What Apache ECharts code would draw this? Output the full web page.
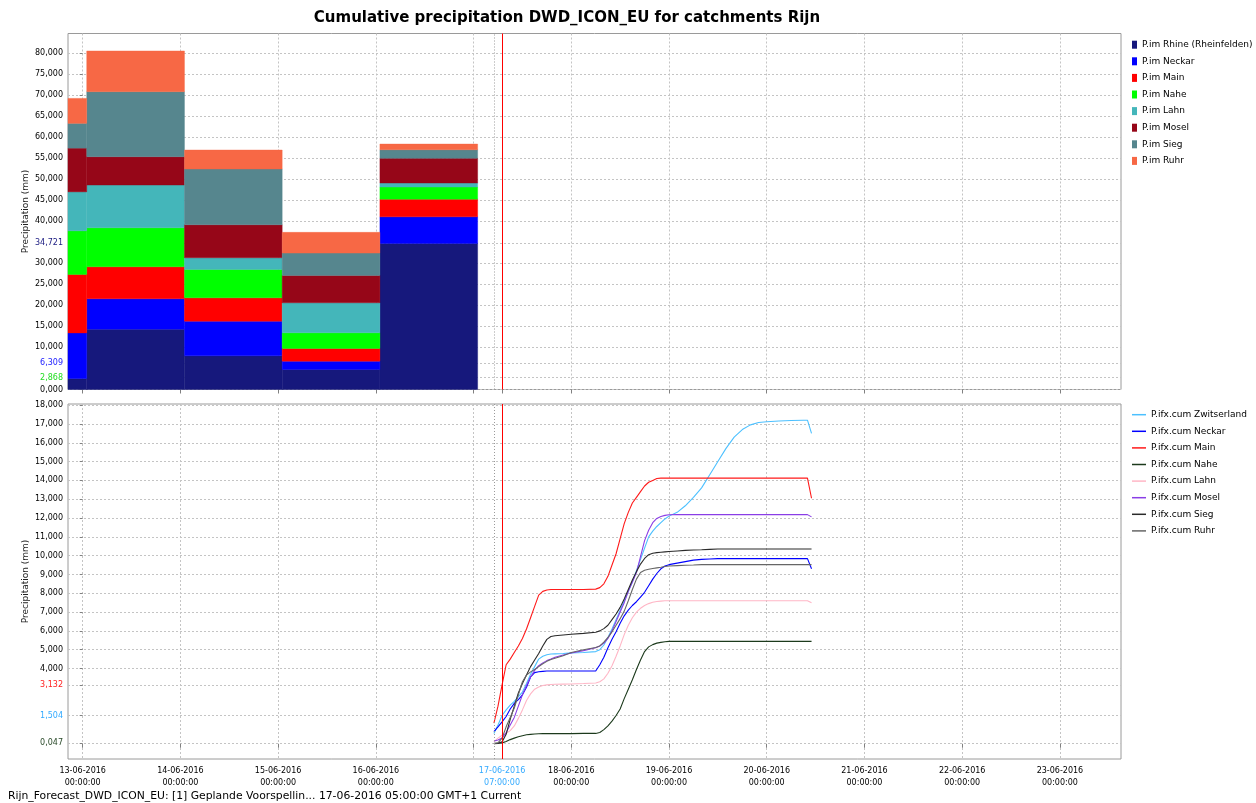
<!DOCTYPE html>
<html><head><meta charset="utf-8">
<script src="https://cdn.jsdelivr.net/npm/echarts@6/dist/echarts.min.js"></script>
<style>html,body{margin:0;padding:0;background:#fff}#c{width:1256px;height:803px}</style>
</head><body><div id="c"></div>
<script>
// ---------- DATA ----------
const titleText = 'Cumulative precipitation DWD_ICON_EU for catchments Rijn';
const footerText = 'Rijn_Forecast_DWD_ICON_EU: [1] Geplande Voorspellin... 17-06-2016 05:00:00 GMT+1 Current';
const yAxisName = 'Precipitation (mm)';

// top panel: daily precipitation blocks (stacked), periods start/end
const barStarts = ['2016-06-12 01:00', '2016-06-13 01:00', '2016-06-14 01:00', '2016-06-15 01:00', '2016-06-16 01:00'];
const barEnds   = ['2016-06-13 01:00', '2016-06-14 01:00', '2016-06-15 01:00', '2016-06-16 01:00', '2016-06-17 01:00'];
const barNames = ['P.im Rhine (Rheinfelden)', 'P.im Neckar', 'P.im Main', 'P.im Nahe', 'P.im Lahn', 'P.im Mosel', 'P.im Sieg', 'P.im Ruhr'];
const imRhine  = [2.6, 14.34, 8.0, 4.76, 34.721];
const imNeckar = [10.85, 7.21, 8.24, 1.97, 6.309];
const imMain   = [13.88, 7.61, 5.54, 3.02, 4.21];
const imNahe   = [10.37, 9.27, 6.76, 3.72, 2.868];
const imLahn   = [9.27, 10.16, 2.76, 7.13, 0.95];
const imMosel  = [10.39, 6.73, 7.85, 6.51, 5.87];
const imSieg   = [5.88, 15.45, 13.24, 5.3, 2.05];
const imRuhr   = [5.94, 9.68, 4.52, 4.93, 1.35];
const topTickValues = [0, 2.868, 6.309, 10, 15, 20, 25, 30, 34.721, 40, 45, 50, 55, 60, 65, 70, 75, 80];

// bottom panel: cumulative forecast, hours after 17-06-2016 00:00
const forecastDay = '2016-06-17 00:00';
const lineHours = [5,6,7,8,9,10,11,12,13,14,15,16,17,18,19,20,22,24,27,30,31,32,33,34,35,36,37,38,39,40,41,42,43,44,45,46,47,48,50,52,54,56,58,60,62,64,66,68,70,72,75,78,81,82,83];
const lineNames = ['P.ifx.cum Zwitserland', 'P.ifx.cum Neckar', 'P.ifx.cum Main', 'P.ifx.cum Nahe', 'P.ifx.cum Lahn', 'P.ifx.cum Mosel', 'P.ifx.cum Sieg', 'P.ifx.cum Ruhr'];
const cumZwitserland = [0.55,1.0,1.504,1.8,2.05,2.25,2.5,2.75,3.2,3.7,4.1,4.5,4.65,4.73,4.77,4.78,4.8,4.83,4.85,4.9,5.0,5.25,5.65,6.1,6.6,7.1,7.6,8.1,8.6,9.2,9.8,10.4,11.0,11.3,11.55,11.75,11.95,12.1,12.3,12.65,13.1,13.6,14.3,15.0,15.7,16.3,16.7,16.95,17.08,17.12,17.16,17.18,17.2,17.2,16.5];
const cumNeckar = [0.65,0.9,1.16,1.45,1.85,2.15,2.35,2.6,3.0,3.55,3.78,3.83,3.85,3.87,3.87,3.87,3.87,3.87,3.87,3.87,4.2,4.6,5.1,5.55,5.95,6.4,6.8,7.1,7.35,7.55,7.8,8.05,8.4,8.75,9.05,9.3,9.45,9.52,9.6,9.68,9.76,9.8,9.82,9.84,9.84,9.84,9.84,9.84,9.84,9.84,9.84,9.84,9.84,9.84,9.3];
const cumMain = [1.1,2.0,3.132,4.2,4.5,4.85,5.2,5.6,6.1,6.7,7.3,7.9,8.1,8.17,8.2,8.2,8.2,8.2,8.2,8.22,8.3,8.5,8.9,9.5,10.1,10.9,11.7,12.3,12.8,13.1,13.4,13.7,13.9,14.0,14.1,14.12,14.12,14.12,14.12,14.12,14.12,14.12,14.12,14.12,14.12,14.12,14.12,14.12,14.12,14.12,14.12,14.12,14.12,14.12,13.05];
const cumNahe = [0.02,0.03,0.047,0.12,0.22,0.3,0.37,0.43,0.48,0.5,0.52,0.53,0.54,0.54,0.54,0.54,0.54,0.54,0.55,0.55,0.6,0.75,0.95,1.2,1.5,1.85,2.4,2.9,3.4,3.95,4.45,4.9,5.15,5.27,5.35,5.39,5.42,5.44,5.44,5.44,5.44,5.44,5.44,5.44,5.44,5.44,5.44,5.44,5.44,5.44,5.44,5.44,5.44,5.44,5.44];
const cumLahn = [0.1,0.3,0.45,0.55,0.7,0.95,1.35,1.8,2.3,2.65,2.9,3.02,3.1,3.13,3.15,3.16,3.17,3.18,3.2,3.23,3.3,3.45,3.75,4.15,4.65,5.2,5.8,6.3,6.7,7.0,7.2,7.35,7.45,7.52,7.56,7.58,7.6,7.6,7.6,7.6,7.6,7.6,7.6,7.6,7.6,7.6,7.6,7.6,7.6,7.6,7.6,7.6,7.6,7.6,7.5];
const cumMosel = [0.15,0.2,0.3,0.6,1.0,1.4,2.0,2.6,3.1,3.55,3.9,4.15,4.3,4.42,4.5,4.6,4.72,4.82,4.95,5.1,5.2,5.35,5.6,6.0,6.5,7.0,7.5,8.1,8.6,9.1,9.95,10.8,11.35,11.75,11.98,12.08,12.14,12.17,12.18,12.18,12.18,12.18,12.18,12.18,12.18,12.18,12.18,12.18,12.18,12.18,12.18,12.18,12.18,12.18,12.06];
const cumSieg = [0.0,0.02,0.1,0.5,1.3,2.0,2.7,3.2,3.65,4.1,4.45,4.8,5.2,5.55,5.7,5.74,5.78,5.82,5.87,5.93,6.0,6.12,6.3,6.6,6.9,7.25,7.7,8.2,8.7,9.15,9.55,9.85,10.05,10.13,10.16,10.18,10.2,10.22,10.25,10.28,10.3,10.31,10.33,10.35,10.35,10.35,10.35,10.35,10.35,10.35,10.35,10.35,10.35,10.35,10.35];
const cumRuhr = [0.0,0.05,0.3,0.9,1.4,1.9,2.6,3.3,3.65,3.82,3.95,4.1,4.25,4.38,4.48,4.55,4.68,4.85,5.0,5.12,5.2,5.4,5.65,5.95,6.3,6.65,7.05,7.6,8.2,8.75,9.1,9.22,9.28,9.32,9.35,9.38,9.42,9.45,9.47,9.49,9.5,9.52,9.52,9.52,9.52,9.52,9.52,9.52,9.52,9.52,9.52,9.52,9.52,9.52,9.52];
const bottomTickValues = [0.047, 1.504, 3.132, 4, 5, 6, 7, 8, 9, 10, 11, 12, 13, 14, 15, 16, 17, 18];

// time axis
const xTickTimes = ['2016-06-13 00:00','2016-06-14 00:00','2016-06-15 00:00','2016-06-16 00:00','2016-06-17 00:00','2016-06-17 07:00','2016-06-18 00:00','2016-06-19 00:00','2016-06-20 00:00','2016-06-21 00:00','2016-06-22 00:00','2016-06-23 00:00'];
const xLabelTimes = ['2016-06-13 00:00','2016-06-14 00:00','2016-06-15 00:00','2016-06-16 00:00','2016-06-17 07:00','2016-06-18 00:00','2016-06-19 00:00','2016-06-20 00:00','2016-06-21 00:00','2016-06-22 00:00','2016-06-23 00:00'];
const forecastTime = '2016-06-17 05:00';
const currentTime = '2016-06-17 07:00';
const xRangeStart = '2016-06-12 20:24';
const xRangeEnd = '2016-06-23 15:00';

// ---------- STYLE ----------
const FONT = 'DejaVu Sans';
const barColors = ['#16187c', '#0000ff', '#ff0000', '#00ff00', '#44b6ba', '#960618', '#56868e', '#f76845'];
const lineColors = ['#4cc0ff', '#0000ff', '#ff1a1a', '#1c3a1c', '#ffb6c6', '#8a3ee6', '#2a2a2a', '#666666'];
const topLabelColors = {'34.721': '#1a1a80', '6.309': '#2020ff', '2.868': '#22dd22'};
const bottomLabelColors = {'3.132': '#ff2020', '1.504': '#33aaff', '0.047': '#2a4a2a'};

// ---------- HELPERS ----------
const refMs = Date.UTC(2016, 5, 13, 0, 0);
function toH(s) {
  const [d, t] = s.split(' ');
  const [Y, M, D] = d.split('-').map(Number);
  const [hh, mm] = t.split(':').map(Number);
  return (Date.UTC(Y, M - 1, D, hh, mm) - refMs) / 3600000;
}
function pad(n) { return String(n).padStart(2, '0'); }
function fmtTime(v) {
  const dt = new Date(refMs + Math.round(v * 60) * 60000);
  return [pad(dt.getUTCDate()) + '-' + pad(dt.getUTCMonth() + 1) + '-' + dt.getUTCFullYear(),
          pad(dt.getUTCHours()) + ':' + pad(dt.getUTCMinutes()) + ':00'];
}
function fmtNum(v) { return v.toFixed(3).replace('.', ','); }

const curH = toH(currentTime), t0H = toH(forecastTime), dayH = toH(forecastDay);
const xMin = toH(xRangeStart), xMax = toH(xRangeEnd);
const xTicks = xTickTimes.map(toH), xLabels = xLabelTimes.map(toH);

const imAll = [imRhine, imNeckar, imMain, imNahe, imLahn, imMosel, imSieg, imRuhr];
const cumAll = [cumZwitserland, cumNeckar, cumMain, cumNahe, cumLahn, cumMosel, cumSieg, cumRuhr];

// stacked blocks
const base = barStarts.map(() => 0);
const barSeries = imAll.map((vals, si) => {
  const data = vals.map((v, i) => {
    const item = [toH(barStarts[i]), toH(barEnds[i]), base[i], base[i] + v];
    base[i] += v;
    return item;
  });
  return {
    type: 'custom', name: barNames[si], xAxisIndex: 0, yAxisIndex: 0,
    itemStyle: {color: barColors[si]},
    encode: {x: [0, 1], y: [2, 3]},
    data: data,
    renderItem: function (params, api) {
      const p0 = api.coord([api.value(0), api.value(3)]);
      const p1 = api.coord([api.value(1), api.value(2)]);
      const cs = params.coordSys;
      const r = echarts.graphic.clipRectByRect(
        {x: p0[0], y: p0[1], width: p1[0] - p0[0], height: p1[1] - p0[1]},
        {x: cs.x, y: cs.y, width: cs.width, height: cs.height});
      return r && {type: 'rect', shape: r, style: {fill: barColors[si], stroke: barColors[si], lineWidth: 0.4}};
    }
  };
});

const lineSeries = cumAll.map((vals, si) => ({
  type: 'line', name: lineNames[si], xAxisIndex: 1, yAxisIndex: 1,
  symbol: 'none', smooth: false, silent: true,
  color: lineColors[si],
  lineStyle: {color: lineColors[si], width: 1.1},
  data: vals.map((v, i) => [dayH + lineHours[i], v])
}));

function markSeries(ix) {
  return {
    type: 'line', xAxisIndex: ix, yAxisIndex: ix, data: [], silent: true, symbol: 'none',
    markLine: {
      silent: true, symbol: ['none', 'none'], label: {show: false}, animation: false,
      data: [
        {xAxis: t0H, lineStyle: {color: '#9a9a9a', type: [1, 2], width: 1}},
        {xAxis: curH, lineStyle: {color: '#ff0000', type: 'solid', width: 1}}
      ]
    }
  };
}

const gridLine = {show: true, lineStyle: {color: '#c4c4c4', type: [2, 2], width: 1}};
const tickStyle = {color: '#808080', width: 1};

function xAxisCfg(ix, withLabels) {
  return {
    type: 'value', gridIndex: ix, min: xMin, max: xMax,
    axisLine: {show: false},
    axisTick: {show: true, customValues: xTicks, length: 4, lineStyle: tickStyle},
    splitLine: gridLine,
    axisLabel: withLabels ? {
      show: true, customValues: xLabels, margin: 6, fontFamily: FONT, fontSize: 8, lineHeight: 12, color: '#000',
      formatter: function (v) {
        const l = fmtTime(v);
        if (Math.abs(v - curH) < 1e-6) return '{c|' + l[0] + '}\n{c|' + l[1] + '}';
        return l[0] + '\n' + l[1];
      },
      rich: {c: {color: '#33aaff', fontFamily: FONT, fontSize: 8, lineHeight: 12}}
    } : {show: false}
  };
}

function yAxisCfg(ix, min, max, ticks, colors) {
  const rich = {};
  Object.keys(colors).forEach((k, i) => { rich['k' + i] = {color: colors[k], fontFamily: FONT, fontSize: 8}; });
  return {
    type: 'value', gridIndex: ix, min: min, max: max,
    name: yAxisName, nameLocation: 'middle', nameGap: 38, nameMoveOverlap: false,
    nameTextStyle: {fontFamily: FONT, fontSize: 9, color: '#222'},
    axisLine: {show: false},
    axisTick: {show: true, customValues: ticks, length: 3, lineStyle: tickStyle},
    splitLine: gridLine,
    axisLabel: {
      show: true, customValues: ticks, margin: 5, fontFamily: FONT, fontSize: 8, color: '#000',
      formatter: function (v) {
        const s = fmtNum(v);
        const keys = Object.keys(colors);
        for (let i = 0; i < keys.length; i++) {
          if (Math.abs(v - Number(keys[i])) < 1e-6) return '{k' + i + '|' + s + '}';
        }
        return s;
      },
      rich: rich
    }
  };
}

const option = {
  animation: false,
  backgroundColor: '#fff',
  graphic: [
    {type: 'text', x: 567, y: 18, style: {text: titleText, x: 0, y: 0, align: 'center', verticalAlign: 'middle', font: 'bold 15px "' + FONT + '"', fill: '#000'}},
    {type: 'text', x: 8, y: 796, style: {text: footerText, align: 'left', verticalAlign: 'middle', font: '10.8px "' + FONT + '"', fill: '#000'}}
  ],
  grid: [
    {left: 68, top: 33.5, width: 1053, height: 356, show: true, borderColor: '#9a9a9a', borderWidth: 1, backgroundColor: '#fff'},
    {left: 68, top: 404, width: 1053, height: 355, show: true, borderColor: '#9a9a9a', borderWidth: 1, backgroundColor: '#fff'}
  ],
  xAxis: [xAxisCfg(0, false), xAxisCfg(1, true)],
  yAxis: [
    yAxisCfg(0, 0, 84.6, topTickValues, topLabelColors),
    yAxisCfg(1, -0.81, 18.06, bottomTickValues, bottomLabelColors)
  ],
  legend: [
    {data: barNames, orient: 'vertical', left: 1132, top: 40.2, padding: 0, icon: 'rect', itemWidth: 5, itemHeight: 8, itemGap: 7.6,
     textStyle: {fontFamily: FONT, fontSize: 9, color: '#000'}, selectedMode: false},
    {data: lineNames, orient: 'vertical', left: 1132, top: 410.2, padding: 0, icon: 'rect', itemWidth: 14, itemHeight: 1.5, itemGap: 7.6,
     textStyle: {fontFamily: FONT, fontSize: 9, color: '#000'}, selectedMode: false}
  ],
  series: barSeries.concat(lineSeries, [markSeries(0), markSeries(1)])
};

const chart = echarts.init(document.getElementById('c'));
chart.setOption(option);
</script></body></html>
